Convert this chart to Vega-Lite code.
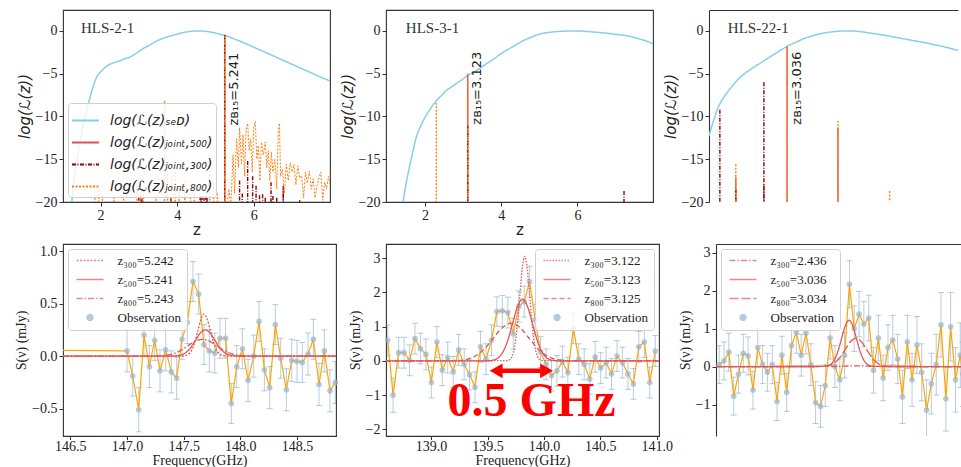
{
"$schema":"https://vega.github.io/schema/vega-lite/v6.json",
"padding":{"left":8,"top":9,"right":0,"bottom":0},
"columns":1,
"align":"none",
"bounds":"full",
"spacing":5,
"resolve":{"scale":{"color":"independent","strokeDash":"independent","shape":"independent"},"legend":{"color":"independent","strokeDash":"independent","shape":"independent"}},
"config":{
 "view":{"stroke":"#333333","strokeWidth":1.1},
 "axis":{"grid":false,"domain":false,"labelFont":"Liberation Serif","labelFontSize":14,"labelColor":"#222222","tickColor":"#333333","tickSize":4,"labelPadding":2,"titleFont":"Liberation Serif","titleFontSize":14,"titleFontWeight":"normal","titleColor":"#222222"}
},
"datasets":{
 "sed1":[{"z":1.22,"ll":-21.5},{"z":1.3,"ll":-17.8},{"z":1.4,"ll":-14.6},{"z":1.5,"ll":-12.0},{"z":1.6,"ll":-10.0},{"z":1.7,"ll":-8.2},{"z":1.8,"ll":-6.6},{"z":1.9,"ll":-5.4},{"z":2.0,"ll":-4.8},{"z":2.1,"ll":-4.35},{"z":2.2,"ll":-4.0},{"z":2.35,"ll":-3.7},{"z":2.5,"ll":-3.5},{"z":2.6,"ll":-3.3},{"z":2.75,"ll":-3.1},{"z":2.9,"ll":-2.7},{"z":3.1,"ll":-2.1},{"z":3.3,"ll":-1.6},{"z":3.5,"ll":-1.1},{"z":3.7,"ll":-0.75},{"z":3.9,"ll":-0.5},{"z":4.1,"ll":-0.25},{"z":4.3,"ll":-0.08},{"z":4.5,"ll":0},{"z":4.7,"ll":-0.03},{"z":4.9,"ll":-0.15},{"z":5.1,"ll":-0.35},{"z":5.3,"ll":-0.6},{"z":5.5,"ll":-0.95},{"z":5.75,"ll":-1.4},{"z":6.0,"ll":-1.9},{"z":6.25,"ll":-2.4},{"z":6.5,"ll":-2.9},{"z":6.75,"ll":-3.4},{"z":7.0,"ll":-3.9},{"z":7.25,"ll":-4.4},{"z":7.5,"ll":-4.9},{"z":7.75,"ll":-5.4},{"z":7.99,"ll":-5.85}],
 "spk1":[{"z":5.241,"ll":-0.45,"series":"500"},{"z":4.62,"ll":-19.5,"series":"500"},{"z":6.77,"ll":-18.5,"series":"500"},{"z":3.05,"ll":-19.6,"series":"500"},
  {"z":3.0,"ll":-19.4,"series":"300"},{"z":3.08,"ll":-19.6,"series":"300"},{"z":3.84,"ll":-19.5,"series":"300"},{"z":4.6,"ll":-19.3,"series":"300"},{"z":4.65,"ll":-19.3,"series":"300"},{"z":4.7,"ll":-19.4,"series":"300"},{"z":4.75,"ll":-19.3,"series":"300"},{"z":4.78,"ll":-19.5,"series":"300"},{"z":5.242,"ll":-0.5,"series":"300"},{"z":5.63,"ll":-17.5,"series":"300"},{"z":5.7,"ll":-19,"series":"300"},{"z":5.84,"ll":-15.2,"series":"300"},{"z":5.97,"ll":-17.0,"series":"300"},{"z":6.06,"ll":-18.1,"series":"300"},{"z":6.15,"ll":-19.2,"series":"300"},{"z":6.23,"ll":-19.1,"series":"300"},{"z":6.3,"ll":-19.5,"series":"300"},{"z":6.45,"ll":-17.7,"series":"300"},{"z":6.5,"ll":-19.3,"series":"300"},{"z":6.6,"ll":-19.5,"series":"300"},{"z":6.77,"ll":-18.1,"series":"300"},{"z":7.2,"ll":-19.8,"series":"300"},
  {"z":1.85,"ll":-19.5,"series":"800"},{"z":1.95,"ll":-18.6,"series":"800"},{"z":2.05,"ll":-19.2,"series":"800"},{"z":2.35,"ll":-19.4,"series":"800"},{"z":2.6,"ll":-19.6,"series":"800"},{"z":2.95,"ll":-18.8,"series":"800"},{"z":3.05,"ll":-17.5,"series":"800"},{"z":3.12,"ll":-19,"series":"800"},{"z":3.45,"ll":-19.2,"series":"800"},{"z":3.67,"ll":-8.2,"series":"800"},{"z":3.75,"ll":-15.5,"series":"800"},{"z":3.85,"ll":-17,"series":"800"},{"z":3.95,"ll":-16.5,"series":"800"},{"z":4.05,"ll":-18,"series":"800"},{"z":4.2,"ll":-17.5,"series":"800"},{"z":4.35,"ll":-19,"series":"800"},{"z":4.45,"ll":-18.5,"series":"800"},{"z":4.85,"ll":-15.5,"series":"800"},{"z":4.95,"ll":-17.8,"series":"800"},{"z":5.05,"ll":-19,"series":"800"},{"z":5.243,"ll":-0.6,"series":"800"}],
 "noise1":[{"z":5.3,"ll":-20.5},{"z":5.35,"ll":-18.5},{"z":5.4,"ll":-20.5},{"z":5.46,"ll":-14.5},{"z":5.5,"ll":-19},{"z":5.55,"ll":-12.6},{"z":5.6,"ll":-16},{"z":5.63,"ll":-11.3},{"z":5.68,"ll":-15.5},{"z":5.72,"ll":-12.1},{"z":5.76,"ll":-17},{"z":5.8,"ll":-11.5},{"z":5.84,"ll":-10.8},{"z":5.88,"ll":-14},{"z":5.92,"ll":-12.6},{"z":5.96,"ll":-16.5},{"z":6.0,"ll":-11.2},{"z":6.04,"ll":-10.6},{"z":6.08,"ll":-15},{"z":6.12,"ll":-13.4},{"z":6.16,"ll":-17.5},{"z":6.2,"ll":-13.0},{"z":6.25,"ll":-14.5},{"z":6.3,"ll":-13.0},{"z":6.34,"ll":-16},{"z":6.38,"ll":-14.0},{"z":6.42,"ll":-17.5},{"z":6.46,"ll":-14.2},{"z":6.5,"ll":-16.5},{"z":6.55,"ll":-15.0},{"z":6.6,"ll":-18.5},{"z":6.64,"ll":-11.8},{"z":6.67,"ll":-10.8},{"z":6.7,"ll":-17},{"z":6.75,"ll":-16.2},{"z":6.8,"ll":-19},{"z":6.85,"ll":-15.6},{"z":6.9,"ll":-17.5},{"z":6.95,"ll":-15.4},{"z":7.0,"ll":-16.5},{"z":7.05,"ll":-15.6},{"z":7.1,"ll":-18},{"z":7.15,"ll":-15.8},{"z":7.2,"ll":-17.2},{"z":7.25,"ll":-16.9},{"z":7.3,"ll":-19.5},{"z":7.35,"ll":-16.5},{"z":7.4,"ll":-17.8},{"z":7.45,"ll":-16.4},{"z":7.5,"ll":-18.5},{"z":7.55,"ll":-17.3},{"z":7.6,"ll":-19.5},{"z":7.65,"ll":-18.1},{"z":7.7,"ll":-17.2},{"z":7.75,"ll":-16.5},{"z":7.8,"ll":-19.8},{"z":7.85,"ll":-17.7},{"z":7.9,"ll":-18.5},{"z":7.95,"ll":-17.0},{"z":8.0,"ll":-18.0}],
 "sed2":[{"z":1.4,"ll":-20.8},{"z":1.5,"ll":-18.0},{"z":1.59,"ll":-16},{"z":1.68,"ll":-14.2},{"z":1.77,"ll":-12.5},{"z":1.9,"ll":-11.0},{"z":2.03,"ll":-9.9},{"z":2.16,"ll":-9.0},{"z":2.29,"ll":-8.2},{"z":2.42,"ll":-7.6},{"z":2.55,"ll":-7.0},{"z":2.68,"ll":-6.6},{"z":2.81,"ll":-6.2},{"z":3.0,"ll":-5.6},{"z":3.16,"ll":-5.1},{"z":3.4,"ll":-4.5},{"z":3.59,"ll":-3.9},{"z":3.8,"ll":-3.3},{"z":3.98,"ll":-2.7},{"z":4.2,"ll":-2.1},{"z":4.4,"ll":-1.6},{"z":4.55,"ll":-1.2},{"z":4.75,"ll":-0.8},{"z":4.98,"ll":-0.4},{"z":5.25,"ll":-0.17},{"z":5.5,"ll":-0.06},{"z":5.75,"ll":-0.01},{"z":6.0,"ll":0},{"z":6.3,"ll":-0.08},{"z":6.63,"ll":-0.2},{"z":7.0,"ll":-0.4},{"z":7.33,"ll":-0.6},{"z":7.6,"ll":-0.9},{"z":7.85,"ll":-1.25},{"z":7.98,"ll":-1.5}],
 "spk2":[{"z":3.123,"ll":-5.0,"series":"500"},{"z":3.122,"ll":-11,"series":"300"},{"z":7.22,"ll":-18.7,"series":"300"},{"z":2.3,"ll":-8.4,"series":"800"},{"z":3.125,"ll":-6.0,"series":"800"}],
 "sed3":[{"z":0.974,"ll":-12.3},{"z":1.05,"ll":-11.1},{"z":1.12,"ll":-10.1},{"z":1.2,"ll":-9.1},{"z":1.3,"ll":-8.2},{"z":1.42,"ll":-7.4},{"z":1.56,"ll":-6.6},{"z":1.74,"ll":-5.65},{"z":2.0,"ll":-4.7},{"z":2.17,"ll":-4.2},{"z":2.35,"ll":-3.7},{"z":2.52,"ll":-3.2},{"z":2.7,"ll":-2.7},{"z":2.88,"ll":-2.2},{"z":3.05,"ll":-1.75},{"z":3.27,"ll":-1.3},{"z":3.49,"ll":-0.86},{"z":3.71,"ll":-0.55},{"z":3.93,"ll":-0.3},{"z":4.15,"ll":-0.15},{"z":4.37,"ll":-0.04},{"z":4.55,"ll":0},{"z":4.72,"ll":0},{"z":5.0,"ll":-0.1},{"z":5.25,"ll":-0.27},{"z":5.6,"ll":-0.5},{"z":5.95,"ll":-0.8},{"z":6.3,"ll":-1.08},{"z":6.65,"ll":-1.36},{"z":6.95,"ll":-1.65},{"z":7.26,"ll":-1.95},{"z":7.55,"ll":-2.3}],
 "spk3":[{"z":1.68,"ll":-17.1,"series":"500"},{"z":2.42,"ll":-17.9,"series":"500"},{"z":3.03,"ll":-1.85,"series":"500"},{"z":4.37,"ll":-11.3,"series":"500"},{"z":1.26,"ll":-9.2,"series":"300"},{"z":1.68,"ll":-18.5,"series":"300"},{"z":2.42,"ll":-6.0,"series":"300"},{"z":1.68,"ll":-15.6,"series":"800"},{"z":3.03,"ll":-1.75,"series":"800"},{"z":4.37,"ll":-10.5,"series":"800"},{"z":5.73,"ll":-18.7,"series":"800"}],
 "obs4":[{"freq":146.435,"flux":0.055,"err":0,"kind":"pad"},{"freq":147.0,"flux":0.05,"err":0.2},{"freq":147.05,"flux":-0.19,"err":0.19},{"freq":147.103,"flux":-0.51,"err":0.21},{"freq":147.15,"flux":0.2,"err":0.2},{"freq":147.197,"flux":-0.1,"err":0.2},{"freq":147.244,"flux":0.15,"err":0.19},{"freq":147.291,"flux":-0.14,"err":0.2},{"freq":147.341,"flux":0.06,"err":0.2},{"freq":147.391,"flux":-0.15,"err":0.2},{"freq":147.438,"flux":-0.21,"err":0.2},{"freq":147.485,"flux":0.16,"err":0.19},{"freq":147.532,"flux":0.32,"err":0.2},{"freq":147.582,"flux":0.71,"err":0.19},{"freq":147.632,"flux":0.59,"err":0.19},{"freq":147.679,"flux":0.11,"err":0.19},{"freq":147.726,"flux":0.05,"err":0.2},{"freq":147.774,"flux":0.03,"err":0.19},{"freq":147.82,"flux":0.17,"err":0.19},{"freq":147.87,"flux":0.17,"err":0.19},{"freq":147.92,"flux":-0.45,"err":0.19},{"freq":147.968,"flux":-0.1,"err":0.2},{"freq":148.018,"flux":0.07,"err":0.19},{"freq":148.068,"flux":-0.23,"err":0.2},{"freq":148.118,"flux":0.0,"err":0.2},{"freq":148.165,"flux":0.33,"err":0.19},{"freq":148.212,"flux":-0.13,"err":0.2},{"freq":148.259,"flux":-0.3,"err":0.2},{"freq":148.309,"flux":0.3,"err":0.19},{"freq":148.356,"flux":-0.02,"err":0.19},{"freq":148.406,"flux":-0.32,"err":0.2},{"freq":148.453,"flux":-0.04,"err":0.2},{"freq":148.5,"flux":-0.05,"err":0.2},{"freq":148.547,"flux":-0.06,"err":0.19},{"freq":148.597,"flux":0.02,"err":0.2},{"freq":148.644,"flux":0.16,"err":0.19},{"freq":148.694,"flux":-0.27,"err":0.2},{"freq":148.741,"flux":0.05,"err":0.2},{"freq":148.791,"flux":-0.33,"err":0.2},{"freq":148.838,"flux":-0.25,"err":0.2}],
 "fit4":[{"freq":146.435,"flux":0,"series":"300"},{"freq":147.4875,"flux":0.0009,"series":"300"},{"freq":147.515,"flux":0.0044,"series":"300"},{"freq":147.5425,"flux":0.018,"series":"300"},{"freq":147.57,"flux":0.054,"series":"300"},{"freq":147.5975,"flux":0.13,"series":"300"},{"freq":147.625,"flux":0.243,"series":"300"},{"freq":147.6525,"flux":0.353,"series":"300"},{"freq":147.68,"flux":0.4,"series":"300"},{"freq":147.7075,"flux":0.353,"series":"300"},{"freq":147.735,"flux":0.243,"series":"300"},{"freq":147.7625,"flux":0.13,"series":"300"},{"freq":147.79,"flux":0.054,"series":"300"},{"freq":147.8175,"flux":0.018,"series":"300"},{"freq":147.845,"flux":0.0044,"series":"300"},{"freq":147.8725,"flux":0.0009,"series":"300"},{"freq":148.844,"flux":0,"series":"300"},
  {"freq":146.435,"flux":0,"series":"500"},{"freq":147.3925,"flux":0.0006,"series":"500"},{"freq":147.435,"flux":0.0028,"series":"500"},{"freq":147.4775,"flux":0.011,"series":"500"},{"freq":147.52,"flux":0.0338,"series":"500"},{"freq":147.5625,"flux":0.0812,"series":"500"},{"freq":147.605,"flux":0.1516,"series":"500"},{"freq":147.6475,"flux":0.2206,"series":"500"},{"freq":147.69,"flux":0.25,"series":"500"},{"freq":147.7325,"flux":0.2206,"series":"500"},{"freq":147.775,"flux":0.1516,"series":"500"},{"freq":147.8175,"flux":0.0812,"series":"500"},{"freq":147.86,"flux":0.0338,"series":"500"},{"freq":147.9025,"flux":0.011,"series":"500"},{"freq":147.945,"flux":0.0028,"series":"500"},{"freq":147.9875,"flux":0.0006,"series":"500"},{"freq":148.844,"flux":0,"series":"500"},
  {"freq":146.435,"flux":0,"series":"800"},{"freq":147.21,"flux":0.0004,"series":"800"},{"freq":147.275,"flux":0.0018,"series":"800"},{"freq":147.34,"flux":0.007,"series":"800"},{"freq":147.405,"flux":0.0217,"series":"800"},{"freq":147.47,"flux":0.052,"series":"800"},{"freq":147.535,"flux":0.097,"series":"800"},{"freq":147.6,"flux":0.1412,"series":"800"},{"freq":147.665,"flux":0.16,"series":"800"},{"freq":147.73,"flux":0.1412,"series":"800"},{"freq":147.795,"flux":0.097,"series":"800"},{"freq":147.86,"flux":0.052,"series":"800"},{"freq":147.925,"flux":0.0217,"series":"800"},{"freq":147.99,"flux":0.007,"series":"800"},{"freq":148.055,"flux":0.0018,"series":"800"},{"freq":148.12,"flux":0.0004,"series":"800"},{"freq":148.844,"flux":0,"series":"800"}],
 "obs5":[{"freq":138.615,"flux":0.6,"err":0.45},{"freq":138.663,"flux":-1.0,"err":0.5},{"freq":138.712,"flux":0.24,"err":0.45},{"freq":138.76,"flux":0.24,"err":0.45},{"freq":138.809,"flux":0.02,"err":0.45},{"freq":138.857,"flux":0.65,"err":0.45},{"freq":138.905,"flux":0.36,"err":0.45},{"freq":138.954,"flux":0.19,"err":0.45},{"freq":139.002,"flux":-0.63,"err":0.45},{"freq":139.051,"flux":0.55,"err":0.45},{"freq":139.099,"flux":-0.27,"err":0.45},{"freq":139.147,"flux":0.1,"err":0.45},{"freq":139.196,"flux":-0.32,"err":0.45},{"freq":139.244,"flux":0.32,"err":0.45},{"freq":139.293,"flux":-0.1,"err":0.45},{"freq":139.341,"flux":-0.4,"err":0.45},{"freq":139.389,"flux":-0.77,"err":0.45},{"freq":139.438,"flux":0.41,"err":0.45},{"freq":139.486,"flux":0.05,"err":0.45},{"freq":139.535,"flux":0.6,"err":0.45},{"freq":139.583,"flux":1.44,"err":0.43},{"freq":139.631,"flux":1.46,"err":0.45},{"freq":139.68,"flux":1.41,"err":0.45},{"freq":139.728,"flux":0.79,"err":0.45},{"freq":139.777,"flux":1.59,"err":0.45},{"freq":139.825,"flux":1.73,"err":0.45},{"freq":139.873,"flux":2.31,"err":0.45},{"freq":139.922,"flux":1.2,"err":0.45},{"freq":139.97,"flux":0.26,"err":0.45},{"freq":140.019,"flux":-0.1,"err":0.45},{"freq":140.067,"flux":-0.43,"err":0.45},{"freq":140.115,"flux":-0.29,"err":0.45},{"freq":140.164,"flux":-0.02,"err":0.45},{"freq":140.212,"flux":-0.34,"err":0.45},{"freq":140.261,"flux":0.95,"err":0.45},{"freq":140.309,"flux":0.05,"err":0.45},{"freq":140.357,"flux":-0.1,"err":0.45},{"freq":140.406,"flux":-0.53,"err":0.45},{"freq":140.454,"flux":0.12,"err":0.45},{"freq":140.503,"flux":-0.21,"err":0.45},{"freq":140.551,"flux":-0.05,"err":0.45},{"freq":140.599,"flux":-0.38,"err":0.45},{"freq":140.648,"flux":0.14,"err":0.45},{"freq":140.696,"flux":-0.05,"err":0.45},{"freq":140.745,"flux":-0.38,"err":0.45},{"freq":140.793,"flux":-0.67,"err":0.45},{"freq":140.841,"flux":0.41,"err":0.45},{"freq":140.89,"flux":0.55,"err":0.45},{"freq":140.938,"flux":-0.63,"err":0.45},{"freq":140.987,"flux":0.29,"err":0.45}],
 "fit5":[{"freq":138.6,"flux":0,"series":"300"},{"freq":139.6725,"flux":0.007,"series":"300"},{"freq":139.695,"flux":0.034,"series":"300"},{"freq":139.7175,"flux":0.134,"series":"300"},{"freq":139.74,"flux":0.413,"series":"300"},{"freq":139.7625,"flux":0.99,"series":"300"},{"freq":139.785,"flux":1.85,"series":"300"},{"freq":139.8075,"flux":2.692,"series":"300"},{"freq":139.83,"flux":3.05,"series":"300"},{"freq":139.8525,"flux":2.692,"series":"300"},{"freq":139.875,"flux":1.85,"series":"300"},{"freq":139.8975,"flux":0.99,"series":"300"},{"freq":139.92,"flux":0.413,"series":"300"},{"freq":139.9425,"flux":0.134,"series":"300"},{"freq":139.965,"flux":0.034,"series":"300"},{"freq":139.9875,"flux":0.007,"series":"300"},{"freq":141.02,"flux":0,"series":"300"},
  {"freq":138.6,"flux":0,"series":"500"},{"freq":139.502,"flux":0.004,"series":"500"},{"freq":139.546,"flux":0.02,"series":"500"},{"freq":139.59,"flux":0.079,"series":"500"},{"freq":139.634,"flux":0.2435,"series":"500"},{"freq":139.678,"flux":0.5845,"series":"500"},{"freq":139.722,"flux":1.0917,"series":"500"},{"freq":139.766,"flux":1.5885,"series":"500"},{"freq":139.81,"flux":1.8,"series":"500"},{"freq":139.854,"flux":1.5885,"series":"500"},{"freq":139.898,"flux":1.0917,"series":"500"},{"freq":139.942,"flux":0.5845,"series":"500"},{"freq":139.986,"flux":0.2435,"series":"500"},{"freq":140.03,"flux":0.079,"series":"500"},{"freq":140.074,"flux":0.02,"series":"500"},{"freq":140.118,"flux":0.004,"series":"500"},{"freq":141.02,"flux":0,"series":"500"},
  {"freq":138.6,"flux":0,"series":"800"},{"freq":139.1605,"flux":0.0024,"series":"800"},{"freq":139.239,"flux":0.0122,"series":"800"},{"freq":139.3175,"flux":0.0483,"series":"800"},{"freq":139.396,"flux":0.1488,"series":"800"},{"freq":139.4745,"flux":0.3572,"series":"800"},{"freq":139.553,"flux":0.6672,"series":"800"},{"freq":139.6315,"flux":0.9708,"series":"800"},{"freq":139.71,"flux":1.1,"series":"800"},{"freq":139.7885,"flux":0.9708,"series":"800"},{"freq":139.867,"flux":0.6672,"series":"800"},{"freq":139.9455,"flux":0.3572,"series":"800"},{"freq":140.024,"flux":0.1488,"series":"800"},{"freq":140.1025,"flux":0.0483,"series":"800"},{"freq":140.181,"flux":0.0122,"series":"800"},{"freq":140.2595,"flux":0.0024,"series":"800"},{"freq":141.02,"flux":0,"series":"800"}],
 "obs6":[{"freq":112.99,"flux":0.05,"err":0.5},{"freq":113.036,"flux":0.15,"err":0.5},{"freq":113.081,"flux":0.38,"err":0.5},{"freq":113.127,"flux":-0.78,"err":0.5},{"freq":113.172,"flux":-0.2,"err":0.5},{"freq":113.218,"flux":0.35,"err":0.5},{"freq":113.263,"flux":0.28,"err":0.5},{"freq":113.309,"flux":-0.62,"err":0.5},{"freq":113.354,"flux":0.5,"err":0.5},{"freq":113.4,"flux":0.05,"err":0.5},{"freq":113.445,"flux":-0.15,"err":0.5},{"freq":113.491,"flux":0.05,"err":0.5},{"freq":113.536,"flux":-0.92,"err":0.5},{"freq":113.582,"flux":0.3,"err":0.5},{"freq":113.627,"flux":-0.68,"err":0.5},{"freq":113.673,"flux":0.55,"err":0.55},{"freq":113.718,"flux":0.9,"err":0.55},{"freq":113.764,"flux":0.3,"err":0.55},{"freq":113.809,"flux":0.88,"err":0.55},{"freq":113.855,"flux":0.05,"err":0.55},{"freq":113.9,"flux":-0.95,"err":0.55},{"freq":113.946,"flux":-1.05,"err":0.55},{"freq":113.991,"flux":-0.5,"err":0.55},{"freq":114.037,"flux":0.75,"err":0.55},{"freq":114.082,"flux":0.0,"err":0.55},{"freq":114.128,"flux":-0.35,"err":0.55},{"freq":114.173,"flux":0.3,"err":0.6},{"freq":114.219,"flux":2.17,"err":0.62},{"freq":114.264,"flux":1.0,"err":0.6},{"freq":114.31,"flux":1.38,"err":0.6},{"freq":114.355,"flux":1.12,"err":0.6},{"freq":114.401,"flux":1.28,"err":0.6},{"freq":114.446,"flux":-0.1,"err":0.6},{"freq":114.492,"flux":0.75,"err":0.6},{"freq":114.537,"flux":-0.3,"err":0.6},{"freq":114.583,"flux":0.5,"err":0.6},{"freq":114.628,"flux":0.7,"err":0.65},{"freq":114.674,"flux":0.2,"err":0.65},{"freq":114.719,"flux":-0.8,"err":0.7},{"freq":114.765,"flux":0.65,"err":0.7},{"freq":114.81,"flux":-0.35,"err":0.7},{"freq":114.856,"flux":0.57,"err":0.75},{"freq":114.901,"flux":-0.15,"err":0.75},{"freq":114.947,"flux":-1.15,"err":0.8},{"freq":114.992,"flux":-0.45,"err":0.8},{"freq":115.038,"flux":0.05,"err":0.8},{"freq":115.083,"flux":1.1,"err":0.85},{"freq":115.129,"flux":-0.85,"err":0.85},{"freq":115.174,"flux":1.05,"err":0.9},{"freq":115.22,"flux":-0.35,"err":0.85},{"freq":115.265,"flux":0.3,"err":0.85},{"freq":115.29,"flux":-0.2,"err":0.85}],
 "fit6":[{"freq":112.96,"flux":0,"series":"300"},{"freq":114.08,"flux":0.003,"series":"300"},{"freq":114.18,"flux":0.012,"series":"300"},{"freq":114.28,"flux":0.02,"series":"300"},{"freq":114.38,"flux":0.012,"series":"300"},{"freq":114.48,"flux":0.003,"series":"300"},{"freq":115.3,"flux":0,"series":"300"},
  {"freq":112.96,"flux":0,"series":"500"},{"freq":113.97,"flux":0.0027,"series":"500"},{"freq":114.005,"flux":0.0135,"series":"500"},{"freq":114.04,"flux":0.0536,"series":"500"},{"freq":114.075,"flux":0.1651,"series":"500"},{"freq":114.11,"flux":0.3961,"series":"500"},{"freq":114.145,"flux":0.74,"series":"500"},{"freq":114.18,"flux":1.0767,"series":"500"},{"freq":114.215,"flux":1.22,"series":"500"},{"freq":114.25,"flux":1.0767,"series":"500"},{"freq":114.285,"flux":0.74,"series":"500"},{"freq":114.32,"flux":0.3961,"series":"500"},{"freq":114.355,"flux":0.1651,"series":"500"},{"freq":114.39,"flux":0.0536,"series":"500"},{"freq":114.425,"flux":0.0135,"series":"500"},{"freq":114.46,"flux":0.0027,"series":"500"},{"freq":115.3,"flux":0,"series":"500"},
  {"freq":112.96,"flux":0,"series":"800"},{"freq":113.93,"flux":0.0017,"series":"800"},{"freq":113.98,"flux":0.0083,"series":"800"},{"freq":114.03,"flux":0.0329,"series":"800"},{"freq":114.08,"flux":0.1015,"series":"800"},{"freq":114.13,"flux":0.2435,"series":"800"},{"freq":114.18,"flux":0.4549,"series":"800"},{"freq":114.23,"flux":0.6619,"series":"800"},{"freq":114.28,"flux":0.75,"series":"800"},{"freq":114.33,"flux":0.6619,"series":"800"},{"freq":114.38,"flux":0.4549,"series":"800"},{"freq":114.43,"flux":0.2435,"series":"800"},{"freq":114.48,"flux":0.1015,"series":"800"},{"freq":114.53,"flux":0.0329,"series":"800"},{"freq":114.58,"flux":0.0083,"series":"800"},{"freq":114.63,"flux":0.0017,"series":"800"},{"freq":115.3,"flux":0,"series":"800"}]
},
"concat":[
 {"hconcat":[
  {"width":267,"height":192,
   "encoding":{
    "x":{"field":"z","type":"quantitative","scale":{"domain":[1.02,7.99],"nice":false,"zero":false},"axis":{"values":[2,4,6],"format":"d","title":"z","titleFont":"DejaVu Sans","titleFontSize":15,"titlePadding":0}},
    "y":{"field":"ll","type":"quantitative","scale":{"domain":[-20,2.45],"nice":false,"zero":false},"axis":{"values":[0,-5,-10,-15,-20],"format":"d","title":[" ","log(ℒ(z))"],"titleLineHeight":8,"titleFont":"DejaVu Sans","titleFontStyle":"italic","titleFontSize":15,"titlePadding":3}}
   },
   "layer":[
    {"data":{"name":"sed1"},"mark":{"type":"line","clip":true,"strokeWidth":1.5,"interpolate":"monotone"},
     "encoding":{"color":{"datum":"SED","title":null,"scale":{"domain":["SED","500","300","800"],"range":["#87ceeb","#e05050","#8b0000","#ff7f0e"]},"legend":{"orient":"bottom-left","offset":5,"title":null,"symbolType":"stroke","symbolSize":729,"symbolStrokeWidth":2,"labelFont":"DejaVu Sans","labelFontStyle":"italic","labelFontSize":14,"labelColor":"#222222","rowPadding":0,"padding":3,"strokeColor":"#d0d0d0","fillColor":"rgba(255,255,255,0.8)","cornerRadius":3,"labelOffset":10,"labelExpr":"datum.value == 'SED' ? 'log(ℒ(z)ₛₑᴅ)' : datum.value == '500' ? 'log(ℒ(z)ⱼₒᵢₙₜ,₅₀₀)' : datum.value == '300' ? 'log(ℒ(z)ⱼₒᵢₙₜ,₃₀₀)' : 'log(ℒ(z)ⱼₒᵢₙₜ,₈₀₀)'"}},
      "strokeDash":{"datum":"SED","title":null,"scale":{"domain":["SED","500","300","800"],"range":[[1,0],[1,0],[4,1.5,1,1.5],[2,1.5]]},"legend":{"orient":"bottom-left","offset":5,"title":null,"symbolType":"stroke","symbolSize":729,"symbolStrokeWidth":2,"labelFont":"DejaVu Sans","labelFontStyle":"italic","labelFontSize":14,"labelColor":"#222222","rowPadding":0,"padding":3,"strokeColor":"#d0d0d0","fillColor":"rgba(255,255,255,0.8)","cornerRadius":3,"labelOffset":10,"labelExpr":"datum.value == 'SED' ? 'log(ℒ(z)ₛₑᴅ)' : datum.value == '500' ? 'log(ℒ(z)ⱼₒᵢₙₜ,₅₀₀)' : datum.value == '300' ? 'log(ℒ(z)ⱼₒᵢₙₜ,₃₀₀)' : 'log(ℒ(z)ⱼₒᵢₙₜ,₈₀₀)'"}}}},
    {"data":{"name":"spk1"},"mark":{"type":"rule","strokeWidth":1.4},
     "encoding":{"y2":{"datum":-20},"color":{"field":"series","type":"nominal","title":null},"strokeDash":{"field":"series","type":"nominal","title":null}}},
    {"data":{"name":"noise1"},"mark":{"type":"line","clip":true,"strokeWidth":1},
     "encoding":{"color":{"datum":"800","title":null},"strokeDash":{"datum":"800","title":null}}},
    {"data":{"values":[{"z":5.49,"ll":-6.8,"label":"zʙ₁₅=5.241"}]},"mark":{"type":"text","angle":270,"font":"DejaVu Sans","fontSize":13,"color":"#222222"},"encoding":{"text":{"field":"label"}}},
    {"data":{"values":[{"z":1.49,"ll":0.35,"label":"HLS-2-1"}]},"mark":{"type":"text","align":"left","baseline":"middle","font":"Liberation Serif","fontSize":15,"color":"#333333"},"encoding":{"text":{"field":"label"}}}
   ]},
  {"width":267,"height":192,
   "encoding":{
    "x":{"field":"z","type":"quantitative","scale":{"domain":[0.98,7.98],"nice":false,"zero":false},"axis":{"values":[2,4,6],"format":"d","title":"z","titleFont":"DejaVu Sans","titleFontSize":15,"titlePadding":0}},
    "y":{"field":"ll","type":"quantitative","scale":{"domain":[-20,2.45],"nice":false,"zero":false},"axis":{"values":[0,-5,-10,-15,-20],"format":"d","title":"log(ℒ(z))","titleFont":"DejaVu Sans","titleFontStyle":"italic","titleFontSize":15,"titlePadding":3}}
   },
   "layer":[
    {"data":{"name":"sed2"},"mark":{"type":"line","clip":true,"strokeWidth":1.5,"interpolate":"monotone"},
     "encoding":{"color":{"datum":"SED","scale":{"domain":["SED","500","300","800"],"range":["#87ceeb","#e05050","#8b0000","#ff7f0e"]},"legend":null},"strokeDash":{"datum":"SED","scale":{"domain":["SED","500","300","800"],"range":[[1,0],[1,0],[4,1.5,1,1.5],[2,1.5]]},"legend":null}}},
    {"data":{"name":"spk2"},"mark":{"type":"rule","strokeWidth":1.4},
     "encoding":{"y2":{"datum":-20},"color":{"field":"series","type":"nominal","legend":null},"strokeDash":{"field":"series","type":"nominal","legend":null}}},
    {"data":{"values":[{"z":3.37,"ll":-6.7,"label":"zʙ₁₅=3.123"}]},"mark":{"type":"text","angle":270,"font":"DejaVu Sans","fontSize":13,"color":"#222222"},"encoding":{"text":{"field":"label"}}},
    {"data":{"values":[{"z":1.5,"ll":0.35,"label":"HLS-3-1"}]},"mark":{"type":"text","align":"left","baseline":"middle","font":"Liberation Serif","fontSize":15,"color":"#333333"},"encoding":{"text":{"field":"label"}}}
   ]},
  {"width":249,"height":192,
   "view":{"stroke":null},
   "encoding":{
    "x":{"field":"z","type":"quantitative","scale":{"domain":[0.974,7.53],"nice":false,"zero":false},"axis":{"values":[2,4,6],"format":"d","title":"z","titleFont":"DejaVu Sans","titleFontSize":15,"titlePadding":0,"domain":true,"domainColor":"#333333","domainWidth":1.1}},
    "y":{"field":"ll","type":"quantitative","scale":{"domain":[-20,2.45],"nice":false,"zero":false},"axis":{"values":[0,-5,-10,-15,-20],"format":"d","title":"log(ℒ(z))","titleFont":"DejaVu Sans","titleFontStyle":"italic","titleFontSize":15,"titlePadding":3,"domain":true,"domainColor":"#333333","domainWidth":1.1}}
   },
   "layer":[
    {"data":{"name":"sed3"},"mark":{"type":"line","clip":true,"strokeWidth":1.5,"interpolate":"monotone"},
     "encoding":{"x":{"field":"z","type":"quantitative","scale":{"domain":[0.974,7.53],"nice":false,"zero":false},"axis":{"orient":"top","labels":false,"ticks":false,"title":null,"domain":true,"domainColor":"#333333","domainWidth":1.1}},
      "color":{"datum":"SED","scale":{"domain":["SED","500","300","800"],"range":["#87ceeb","#e05050","#8b0000","#ff7f0e"]},"legend":null},"strokeDash":{"datum":"SED","scale":{"domain":["SED","500","300","800"],"range":[[1,0],[1,0],[4,1.5,1,1.5],[2,1.5]]},"legend":null}}},
    {"data":{"name":"spk3"},"mark":{"type":"rule","strokeWidth":1.4},
     "encoding":{"y2":{"datum":-20},"color":{"field":"series","type":"nominal","legend":null},"strokeDash":{"field":"series","type":"nominal","legend":null}}},
    {"data":{"values":[{"z":3.3,"ll":-6.7,"label":"zʙ₁₅=3.036"}]},"mark":{"type":"text","angle":270,"font":"DejaVu Sans","fontSize":13,"color":"#222222"},"encoding":{"text":{"field":"label"}}},
    {"data":{"values":[{"z":1.47,"ll":0.35,"label":"HLS-22-1"}]},"mark":{"type":"text","align":"left","baseline":"middle","font":"Liberation Serif","fontSize":15,"color":"#333333"},"encoding":{"text":{"field":"label"}}}
   ]}
 ],"spacing":56,"bounds":"flush",
 "resolve":{"scale":{"color":"independent","strokeDash":"independent","shape":"independent"},"legend":{"color":"independent","strokeDash":"independent","shape":"independent"}}},
 {"hconcat":[
  {"width":273,"height":192,
   "encoding":{
    "x":{"field":"freq","type":"quantitative","scale":{"domain":[146.435,148.844],"nice":false,"zero":false},"axis":{"values":[146.5,147,147.5,148,148.5],"format":".1f","title":"Frequency(GHz)","titlePadding":0,"labelPadding":0,"tickSize":3.5}},
    "y":{"field":"flux","type":"quantitative","scale":{"domain":[-0.76,1.067],"nice":false,"zero":false},"axis":{"values":[-0.5,0,0.5,1],"format":".1f","title":"S(ν) (mJy)","titlePadding":3}}
   },
   "layer":[
    {"data":{"name":"obs4"},"transform":[{"filter":"datum.kind !== 'pad'"}],"mark":{"type":"errorbar","ticks":{"size":6},"color":"#4682b4","opacity":0.4,"clip":true},"encoding":{"yError":{"field":"err"}}},
    {"data":{"name":"obs4"},"mark":{"type":"line","color":"#ffa500","strokeWidth":1.2,"clip":true}},
    {"data":{"name":"obs4"},"transform":[{"filter":"datum.kind !== 'pad'"}],"mark":{"type":"point","filled":true,"size":32},
     "encoding":{"color":{"datum":"Observation","title":null,"scale":{"domain":["300","500","800","Observation"],"range":["#e25555","#e25555","#e25555","#9ab4cc"]},"legend":{"orient":"top-left","offset":5,"title":null,"symbolSize":36,"symbolOffset":10.5,"symbolStrokeWidth":1.3,"labelFont":"Liberation Serif","labelFontSize":13,"labelColor":"#222222","rowPadding":5,"padding":5,"strokeColor":"#d0d0d0","fillColor":"rgba(255,255,255,0.8)","cornerRadius":3,"labelOffset":21,"labelExpr":"datum.value == '300' ? 'z₃₀₀=5.242' : datum.value == '500' ? 'z₅₀₀=5.241' : datum.value == '800' ? 'z₈₀₀=5.243' : 'Observation'"}},
      "shape":{"datum":"Observation","title":null,"scale":{"domain":["300","500","800","Observation"],"range":["M-4.5,0H4.5","M-4.5,0H4.5","M-4.5,0H4.5","circle"]},"legend":{"orient":"top-left","offset":5,"title":null,"symbolSize":36,"symbolOffset":10.5,"symbolStrokeWidth":1.3,"labelFont":"Liberation Serif","labelFontSize":13,"labelColor":"#222222","rowPadding":5,"padding":5,"strokeColor":"#d0d0d0","fillColor":"rgba(255,255,255,0.8)","cornerRadius":3,"labelOffset":21,"labelExpr":"datum.value == '300' ? 'z₃₀₀=5.242' : datum.value == '500' ? 'z₅₀₀=5.241' : datum.value == '800' ? 'z₈₀₀=5.243' : 'Observation'"}}}},
    {"data":{"name":"fit4"},"mark":{"type":"line","interpolate":"monotone","strokeWidth":1.3,"clip":true},
     "encoding":{"color":{"field":"series","type":"nominal","title":null,"scale":{"domain":["300","500","800","Observation"],"range":["#e25555","#e25555","#e25555","#9ab4cc"]},"legend":{"orient":"top-left","offset":5,"title":null,"symbolSize":36,"symbolOffset":10.5,"symbolStrokeWidth":1.3,"labelFont":"Liberation Serif","labelFontSize":13,"labelColor":"#222222","rowPadding":5,"padding":5,"strokeColor":"#d0d0d0","fillColor":"rgba(255,255,255,0.8)","cornerRadius":3,"labelOffset":21,"labelExpr":"datum.value == '300' ? 'z₃₀₀=5.242' : datum.value == '500' ? 'z₅₀₀=5.241' : datum.value == '800' ? 'z₈₀₀=5.243' : 'Observation'"}},
      "strokeDash":{"field":"series","type":"nominal","title":null,"scale":{"domain":["300","500","800","Observation"],"range":[[2,1.5],[1,0],[6,2,1.5,2],[1,0]]},"legend":{"orient":"top-left","offset":5,"title":null,"symbolSize":36,"symbolOffset":10.5,"symbolStrokeWidth":1.3,"labelFont":"Liberation Serif","labelFontSize":13,"labelColor":"#222222","rowPadding":5,"padding":5,"strokeColor":"#d0d0d0","fillColor":"rgba(255,255,255,0.8)","cornerRadius":3,"labelOffset":21,"labelExpr":"datum.value == '300' ? 'z₃₀₀=5.242' : datum.value == '500' ? 'z₅₀₀=5.241' : datum.value == '800' ? 'z₈₀₀=5.243' : 'Observation'"}}}}
   ]},
  {"hconcat":[
   {"width":273,"height":192,
    "encoding":{
     "x":{"field":"freq","type":"quantitative","scale":{"domain":[138.6,141.02],"nice":false,"zero":false},"axis":{"values":[139,139.5,140,140.5,141],"format":".1f","title":"Frequency(GHz)","titlePadding":0,"labelPadding":0,"tickSize":3.5}},
     "y":{"field":"flux","type":"quantitative","scale":{"domain":[-2.19,3.41],"nice":false,"zero":false},"axis":{"values":[-2,-1,0,1,2,3],"format":"d","title":"S(ν) (mJy)","titlePadding":3}}
    },
    "layer":[
     {"data":{"name":"obs5"},"mark":{"type":"errorbar","ticks":{"size":6},"color":"#4682b4","opacity":0.4,"clip":true},"encoding":{"yError":{"field":"err"}}},
     {"data":{"name":"obs5"},"mark":{"type":"line","color":"#ffa500","strokeWidth":1.2,"clip":true}},
     {"data":{"name":"obs5"},"mark":{"type":"point","filled":true,"size":32},
      "encoding":{"color":{"datum":"Observation","title":null,"scale":{"domain":["300","500","800","Observation"],"range":["#e25555","#e25555","#e25555","#9ab4cc"]},"legend":{"orient":"top-right","offset":5,"title":null,"symbolSize":36,"symbolOffset":10.5,"symbolStrokeWidth":1.3,"labelFont":"Liberation Serif","labelFontSize":13,"labelColor":"#222222","rowPadding":5,"padding":5,"strokeColor":"#d0d0d0","fillColor":"rgba(255,255,255,0.8)","cornerRadius":3,"labelOffset":21,"labelExpr":"datum.value == '300' ? 'z₃₀₀=3.122' : datum.value == '500' ? 'z₅₀₀=3.123' : datum.value == '800' ? 'z₈₀₀=3.125' : 'Observation'"}},
       "shape":{"datum":"Observation","title":null,"scale":{"domain":["300","500","800","Observation"],"range":["M-4.5,0H4.5","M-4.5,0H4.5","M-4.5,0H4.5","circle"]},"legend":{"orient":"top-right","offset":5,"title":null,"symbolSize":36,"symbolOffset":10.5,"symbolStrokeWidth":1.3,"labelFont":"Liberation Serif","labelFontSize":13,"labelColor":"#222222","rowPadding":5,"padding":5,"strokeColor":"#d0d0d0","fillColor":"rgba(255,255,255,0.8)","cornerRadius":3,"labelOffset":21,"labelExpr":"datum.value == '300' ? 'z₃₀₀=3.122' : datum.value == '500' ? 'z₅₀₀=3.123' : datum.value == '800' ? 'z₈₀₀=3.125' : 'Observation'"}}}},
     {"data":{"name":"fit5"},"mark":{"type":"line","interpolate":"monotone","strokeWidth":1.3,"clip":true},
      "encoding":{"color":{"field":"series","type":"nominal","title":null,"scale":{"domain":["300","500","800","Observation"],"range":["#e25555","#e25555","#e25555","#9ab4cc"]},"legend":{"orient":"top-right","offset":5,"title":null,"symbolSize":36,"symbolOffset":10.5,"symbolStrokeWidth":1.3,"labelFont":"Liberation Serif","labelFontSize":13,"labelColor":"#222222","rowPadding":5,"padding":5,"strokeColor":"#d0d0d0","fillColor":"rgba(255,255,255,0.8)","cornerRadius":3,"labelOffset":21,"labelExpr":"datum.value == '300' ? 'z₃₀₀=3.122' : datum.value == '500' ? 'z₅₀₀=3.123' : datum.value == '800' ? 'z₈₀₀=3.125' : 'Observation'"}},
       "strokeDash":{"field":"series","type":"nominal","title":null,"scale":{"domain":["300","500","800","Observation"],"range":[[1.5,1.5],[1,0],[5,3],[1,0]]},"legend":{"orient":"top-right","offset":5,"title":null,"symbolSize":36,"symbolOffset":10.5,"symbolStrokeWidth":1.3,"labelFont":"Liberation Serif","labelFontSize":13,"labelColor":"#222222","rowPadding":5,"padding":5,"strokeColor":"#d0d0d0","fillColor":"rgba(255,255,255,0.8)","cornerRadius":3,"labelOffset":21,"labelExpr":"datum.value == '300' ? 'z₃₀₀=3.122' : datum.value == '500' ? 'z₅₀₀=3.123' : datum.value == '800' ? 'z₈₀₀=3.125' : 'Observation'"}}}},
     {"data":{"values":[{"freq":139.58,"freq2":140.02,"flux":-0.29}]},"mark":{"type":"rule","color":"#ff0000","strokeWidth":4.5},"encoding":{"x2":{"field":"freq2"}}},
     {"data":{"values":[{"freq":139.577,"flux":-0.29}]},"mark":{"type":"point","shape":"triangle-left","filled":true,"size":220,"color":"#ff0000","opacity":1}},
     {"data":{"values":[{"freq":140.023,"flux":-0.29}]},"mark":{"type":"point","shape":"triangle-right","filled":true,"size":220,"color":"#ff0000","opacity":1}},
     {"data":{"values":[{"freq":139.89,"flux":-1.21,"label":"0.5 GHz"}]},"mark":{"type":"text","font":"Liberation Serif","fontSize":48,"fontWeight":"bold","color":"#ff0000","align":"center","baseline":"middle"},"encoding":{"text":{"field":"label"}}}
    ]},
   {"width":248,"height":192,
    "view":{"stroke":null},
    "encoding":{
     "x":{"field":"freq","type":"quantitative","scale":{"domain":[112.96,115.3],"nice":false,"zero":false},"axis":{"values":[113,113.5,114,114.5,115],"format":".1f","title":"Frequency(GHz)","titlePadding":0,"labelPadding":0,"tickSize":3.5,"domain":true,"domainColor":"#333333","domainWidth":1.1}},
     "y":{"field":"flux","type":"quantitative","scale":{"domain":[-1.83,3.23],"nice":false,"zero":false},"axis":{"values":[-1,0,1,2,3],"format":"d","title":"S(ν) (mJy)","titlePadding":3,"domain":true,"domainColor":"#333333","domainWidth":1.1}}
    },
    "layer":[
     {"data":{"name":"obs6"},"mark":{"type":"errorbar","ticks":{"size":6},"color":"#4682b4","opacity":0.4,"clip":true},"encoding":{"yError":{"field":"err"}}},
     {"data":{"name":"obs6"},"mark":{"type":"line","color":"#ffa500","strokeWidth":1.2,"clip":true},
      "encoding":{"x":{"field":"freq","type":"quantitative","scale":{"domain":[112.96,115.3],"nice":false,"zero":false},"axis":{"orient":"top","labels":false,"ticks":false,"title":null,"domain":true,"domainColor":"#333333","domainWidth":1.1}}}},
     {"data":{"name":"obs6"},"mark":{"type":"point","filled":true,"size":32},
      "encoding":{"color":{"datum":"Observation","title":null,"scale":{"domain":["300","500","800","Observation"],"range":["#e25555","#e25555","#e25555","#9ab4cc"]},"legend":{"orient":"top-left","offset":5,"title":null,"symbolSize":36,"symbolOffset":10.5,"symbolStrokeWidth":1.3,"labelFont":"Liberation Serif","labelFontSize":13,"labelColor":"#222222","rowPadding":5,"padding":5,"strokeColor":"#d0d0d0","fillColor":"rgba(255,255,255,0.8)","cornerRadius":3,"labelOffset":21,"labelExpr":"datum.value == '300' ? 'z₃₀₀=2.436' : datum.value == '500' ? 'z₅₀₀=3.036' : datum.value == '800' ? 'z₈₀₀=3.034' : 'Observation'"}},
       "shape":{"datum":"Observation","title":null,"scale":{"domain":["300","500","800","Observation"],"range":["M-4.5,0H4.5","M-4.5,0H4.5","M-4.5,0H4.5","circle"]},"legend":{"orient":"top-left","offset":5,"title":null,"symbolSize":36,"symbolOffset":10.5,"symbolStrokeWidth":1.3,"labelFont":"Liberation Serif","labelFontSize":13,"labelColor":"#222222","rowPadding":5,"padding":5,"strokeColor":"#d0d0d0","fillColor":"rgba(255,255,255,0.8)","cornerRadius":3,"labelOffset":21,"labelExpr":"datum.value == '300' ? 'z₃₀₀=2.436' : datum.value == '500' ? 'z₅₀₀=3.036' : datum.value == '800' ? 'z₈₀₀=3.034' : 'Observation'"}}}},
     {"data":{"name":"fit6"},"mark":{"type":"line","interpolate":"monotone","strokeWidth":1.3,"clip":true},
      "encoding":{"color":{"field":"series","type":"nominal","title":null,"scale":{"domain":["300","500","800","Observation"],"range":["#e25555","#e25555","#e25555","#9ab4cc"]},"legend":{"orient":"top-left","offset":5,"title":null,"symbolSize":36,"symbolOffset":10.5,"symbolStrokeWidth":1.3,"labelFont":"Liberation Serif","labelFontSize":13,"labelColor":"#222222","rowPadding":5,"padding":5,"strokeColor":"#d0d0d0","fillColor":"rgba(255,255,255,0.8)","cornerRadius":3,"labelOffset":21,"labelExpr":"datum.value == '300' ? 'z₃₀₀=2.436' : datum.value == '500' ? 'z₅₀₀=3.036' : datum.value == '800' ? 'z₈₀₀=3.034' : 'Observation'"}},
       "strokeDash":{"field":"series","type":"nominal","title":null,"scale":{"domain":["300","500","800","Observation"],"range":[[6,2,1.5,2],[1,0],[9,3],[1,0]]},"legend":{"orient":"top-left","offset":5,"title":null,"symbolSize":36,"symbolOffset":10.5,"symbolStrokeWidth":1.3,"labelFont":"Liberation Serif","labelFontSize":13,"labelColor":"#222222","rowPadding":5,"padding":5,"strokeColor":"#d0d0d0","fillColor":"rgba(255,255,255,0.8)","cornerRadius":3,"labelOffset":21,"labelExpr":"datum.value == '300' ? 'z₃₀₀=2.436' : datum.value == '500' ? 'z₅₀₀=3.036' : datum.value == '800' ? 'z₈₀₀=3.034' : 'Observation'"}}}}
    ]}
  ],"spacing":57,"bounds":"flush",
  "resolve":{"scale":{"color":"independent","strokeDash":"independent","shape":"independent"},"legend":{"color":"independent","strokeDash":"independent","shape":"independent"}}}
 ],"spacing":50,"bounds":"flush",
 "resolve":{"scale":{"color":"independent","strokeDash":"independent","shape":"independent"},"legend":{"color":"independent","strokeDash":"independent","shape":"independent"}}}
]
}
